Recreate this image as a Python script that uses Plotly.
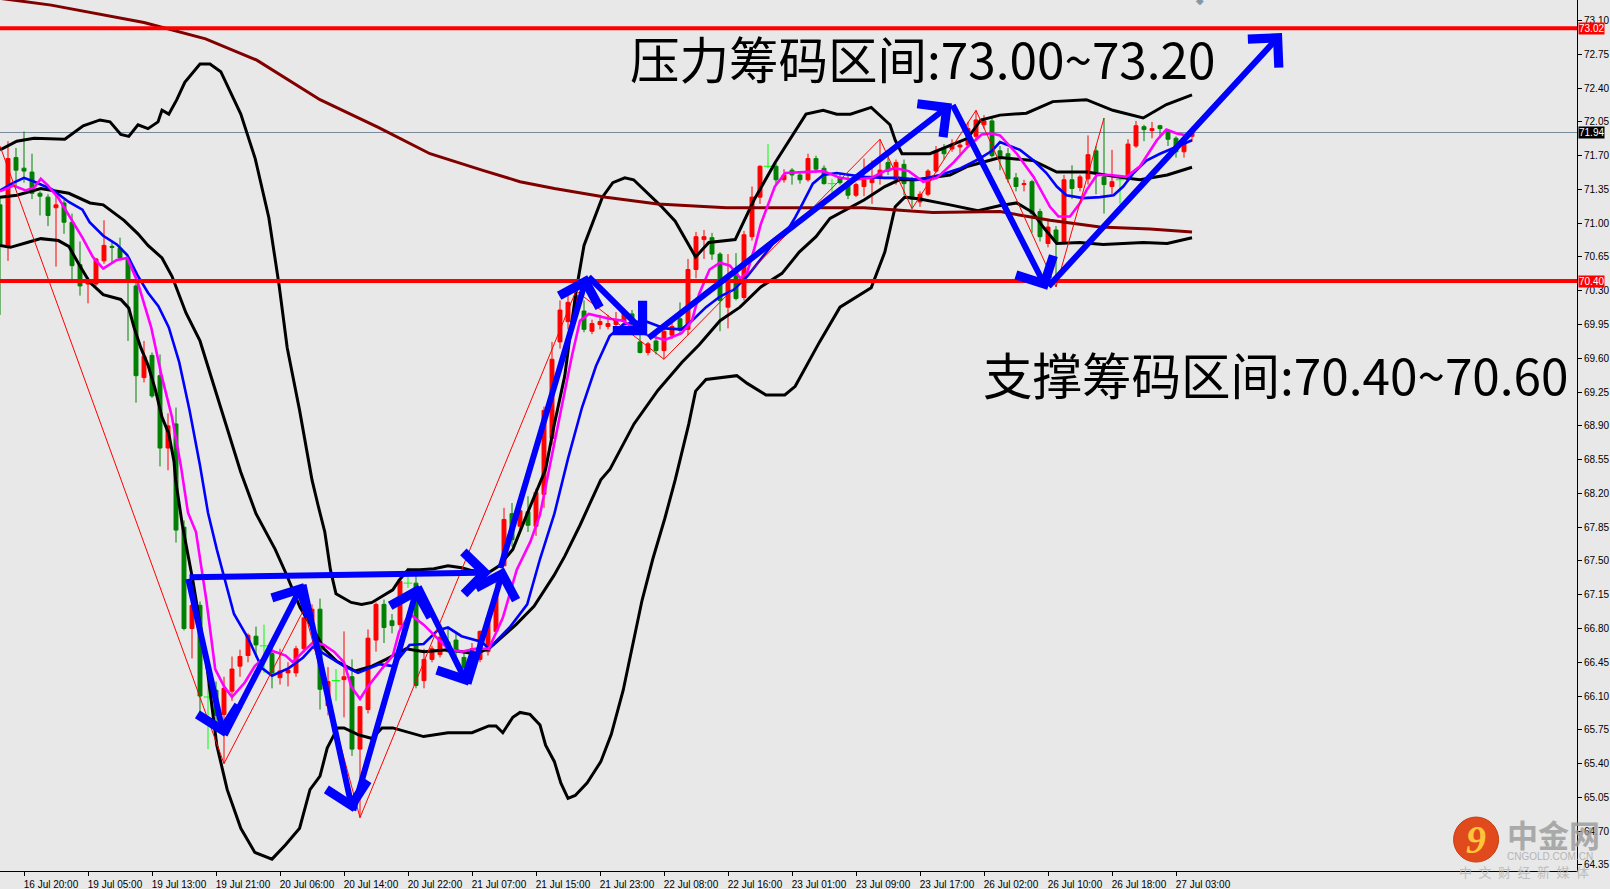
import plotly.graph_objects as go

# H1 bars, bar 0 = 16 Jul 17:00
opens = [71.19, 70.76, 71.68, 71.57, 71.53, 71.31, 71.27, 71.16, 71.21, 71.01,
         70.57, 70.37, 70.37, 70.61, 70.76, 70.74, 70.64, 70.35, 69.40, 69.63,
         69.42, 68.67, 68.92, 67.85, 66.80, 67.04, 66.09, 66.16, 65.91, 66.15,
         66.41, 66.52, 66.72, 66.62, 66.54, 66.29, 66.34, 66.34, 66.59, 66.88,
         67.00, 66.00, 66.26, 66.27, 66.30, 65.55, 65.96, 66.68, 67.05, 66.88,
         66.84, 67.27, 67.27, 66.26, 66.48, 66.53, 66.66, 66.68, 66.50, 66.47,
         66.48, 66.56, 66.77, 67.45, 67.99, 67.86, 68.01, 67.86, 68.19, 68.77,
         69.77, 69.98, 70.15, 70.09, 69.88, 69.95, 69.93, 69.95, 69.98, 70.06,
         69.77, 69.66, 69.78, 69.68, 69.84, 70.01, 69.90, 70.52, 70.83, 70.85,
         70.68, 70.13, 70.49, 70.23, 70.86, 71.27, 71.59, 71.59, 71.45, 71.55,
         71.50, 71.45, 71.67, 71.57, 71.41, 71.47, 71.41, 71.29, 71.38, 71.42,
         71.48, 71.63, 71.45, 71.61, 71.45, 71.22, 71.30, 71.54, 71.77, 71.77,
         71.79, 71.81, 71.90, 72.02, 72.06, 71.75, 71.72, 71.47, 71.40, 71.43,
         71.12, 70.79, 70.93, 70.81, 71.45, 71.37, 71.46, 71.75, 71.48, 71.38,
         71.45, 71.45, 71.80, 72.00, 71.96, 72.01, 71.95, 71.88, 71.74, 71.90]
highs = [71.28, 71.85, 71.78, 71.95, 71.72, 71.33, 71.30, 71.28, 71.24, 71.10,
         70.81, 70.44, 70.64, 71.03, 70.81, 70.85, 70.66, 70.44, 69.78, 69.66,
         69.64, 69.03, 69.09, 67.92, 67.10, 67.08, 66.23, 66.25, 66.30, 66.51,
         66.58, 66.75, 66.82, 66.84, 66.60, 66.59, 66.45, 66.62, 67.00, 67.05,
         67.11, 66.40, 66.38, 66.77, 66.48, 65.70, 66.79, 67.07, 67.10, 66.95,
         67.30, 67.43, 67.40, 66.59, 66.62, 66.75, 66.80, 66.75, 66.55, 66.65,
         66.78, 66.97, 67.38, 68.05, 68.10, 68.10, 68.17, 68.25, 69.10, 69.77,
         70.20, 70.26, 70.30, 70.20, 70.00, 70.05, 70.05, 70.08, 70.12, 70.10,
         69.85, 69.77, 69.85, 69.90, 70.01, 70.18, 70.63, 70.91, 70.93, 70.90,
         70.70, 70.68, 70.69, 70.92, 71.38, 71.60, 71.82, 71.62, 71.56, 71.57,
         71.54, 71.72, 71.70, 71.60, 71.46, 71.52, 71.50, 71.42, 71.67, 71.65,
         71.87, 71.70, 71.66, 71.66, 71.48, 71.33, 71.56, 71.80, 71.82, 71.87,
         71.85, 72.05, 72.17, 72.12, 72.10, 71.80, 71.78, 71.52, 71.45, 71.45,
         71.15, 71.03, 70.97, 71.50, 71.60, 71.50, 71.91, 71.80, 72.09, 71.76,
         71.47, 71.87, 72.06, 72.02, 72.05, 72.02, 71.97, 71.90, 71.89, 72.00]
lows = [70.05, 70.61, 71.36, 71.42, 71.25, 71.08, 70.97, 70.55, 70.89, 70.42,
        70.25, 70.17, 70.35, 70.58, 70.58, 70.62, 69.78, 69.14, 69.35, 69.19,
        68.48, 68.44, 67.69, 66.78, 66.49, 65.91, 65.55, 65.78, 65.40, 66.05,
        66.30, 66.45, 66.50, 66.34, 66.18, 66.22, 66.20, 66.30, 66.55, 66.80,
        65.96, 65.90, 66.05, 65.88, 65.48, 64.84, 65.92, 66.56, 66.65, 66.75,
        66.80, 67.22, 66.18, 66.18, 66.45, 66.50, 66.55, 66.40, 66.37, 66.43,
        66.45, 66.52, 66.77, 67.45, 67.65, 67.80, 67.80, 67.76, 68.05, 68.70,
        69.70, 69.90, 70.05, 69.87, 69.85, 69.90, 69.90, 69.90, 69.95, 69.85,
        69.65, 69.63, 69.64, 69.59, 69.80, 69.85, 69.84, 70.43, 70.63, 70.62,
        69.88, 69.91, 70.20, 70.20, 70.82, 71.20, 71.57, 71.40, 71.42, 71.40,
        71.41, 71.43, 71.52, 71.40, 71.29, 71.40, 71.25, 71.27, 71.28, 71.20,
        71.40, 71.50, 71.40, 71.29, 71.15, 71.17, 71.28, 71.52, 71.66, 71.74,
        71.72, 71.78, 71.85, 71.98, 71.68, 71.55, 71.42, 71.33, 71.33, 70.90,
        70.81, 70.75, 70.34, 70.78, 71.25, 71.33, 71.40, 71.30, 71.10, 71.30,
        71.20, 71.43, 71.78, 71.85, 71.88, 71.88, 71.80, 71.68, 71.68, 71.85]
closes = [70.78, 71.67, 71.55, 71.54, 71.31, 71.28, 71.08, 71.19, 71.01, 70.56,
          70.35, 70.39, 70.63, 70.77, 70.75, 70.64, 70.40, 69.42, 69.62, 69.21,
          68.67, 68.90, 67.82, 66.80, 67.04, 66.10, 66.09, 65.90, 66.18, 66.38,
          66.51, 66.73, 66.63, 66.62, 66.34, 66.36, 66.37, 66.59, 66.91, 67.00,
          66.17, 66.25, 66.26, 66.30, 65.55, 65.99, 66.70, 67.05, 66.81, 66.83,
          67.29, 67.27, 66.21, 66.48, 66.59, 66.71, 66.56, 66.57, 66.39, 66.59,
          66.77, 66.91, 67.16, 67.93, 67.72, 68.02, 67.87, 68.21, 69.06, 69.59,
          70.10, 70.18, 70.25, 69.90, 69.96, 69.98, 69.96, 70.00, 70.09, 69.90,
          69.66, 69.75, 69.68, 69.88, 69.93, 69.89, 70.52, 70.86, 70.86, 70.68,
          70.20, 70.40, 70.22, 70.88, 71.27, 71.59, 71.59, 71.45, 71.50, 71.50,
          71.45, 71.67, 71.56, 71.41, 71.41, 71.42, 71.29, 71.40, 71.45, 71.48,
          71.55, 71.54, 71.63, 71.41, 71.25, 71.30, 71.54, 71.75, 71.72, 71.82,
          71.81, 71.98, 72.07, 72.06, 71.70, 71.68, 71.46, 71.38, 71.41, 71.10,
          70.86, 70.96, 70.81, 71.45, 71.36, 71.48, 71.71, 71.53, 71.40, 71.43,
          71.45, 71.82, 72.01, 71.97, 71.98, 71.98, 71.87, 71.74, 71.83, 71.94]

label_bars = [3, 11, 19, 27, 35, 43, 51, 59, 67, 75, 83, 91, 99, 107, 115,
              123, 131, 139, 147]
time_labels = ["16 Jul 20:00", "19 Jul 05:00", "19 Jul 13:00", "19 Jul 21:00",
               "20 Jul 06:00", "20 Jul 14:00", "20 Jul 22:00", "21 Jul 07:00",
               "21 Jul 15:00", "21 Jul 23:00", "22 Jul 08:00", "22 Jul 16:00",
               "23 Jul 01:00", "23 Jul 09:00", "23 Jul 17:00", "26 Jul 02:00",
               "26 Jul 10:00", "26 Jul 18:00", "27 Jul 03:00"]

# indicator lines: (bar, price)
bb_upper = [(0, 71.76), (2.1, 71.85), (4.25, 71.88), (8.1, 71.87), (10.4, 72.01),
            (12.5, 72.07), (13.75, 72.05), (15.1, 71.92), (16.1, 71.90), (17.25, 72.02),
            (18.5, 71.98), (19.75, 72.05), (20.25, 72.17), (21.1, 72.13), (22.1, 72.28),
            (23.1, 72.46), (25, 72.65), (26.25, 72.65), (27.6, 72.57), (29.25, 72.28),
            (30.1, 72.13), (31.9, 71.67), (33.6, 71.06), (34.9, 70.35), (35.9, 69.71),
            (37.45, 69.06), (39, 68.34), (39.75, 68.08), (40.6, 67.80), (41.3, 67.41),
            (42, 67.16), (43.9, 67.07), (45.2, 67.05), (46.5, 67.07), (47.75, 67.13),
            (49.1, 67.20), (49.9, 67.30), (51, 67.41), (52.5, 67.41), (54.25, 67.42),
            (56, 67.45), (57.7, 67.43), (59, 67.40), (61.1, 67.38), (62.4, 67.45),
            (64.1, 67.62), (65.9, 67.99), (67.1, 68.24), (68.2, 68.45), (69.3, 68.92),
            (70.6, 69.42), (71.5, 69.99), (72.1, 70.34), (73, 70.77), (74, 70.99),
            (75.3, 71.27), (76.6, 71.42), (78.1, 71.47), (79.2, 71.45), (80.9, 71.31),
            (82.6, 71.18), (84.4, 71.02), (85.6, 70.85), (86.95, 70.65), (88.6, 70.80),
            (91.9, 70.83), (94.25, 71.24), (96.9, 71.63), (100.75, 72.13), (102.9, 72.17),
            (104.6, 72.13), (106.3, 72.13), (108.9, 72.20), (111.25, 72.02), (111.9, 71.86),
            (112.75, 71.72), (116.25, 71.72), (118.8, 71.81), (120.95, 71.88), (122.6, 72.07),
            (125, 72.12), (128.3, 72.14), (131.6, 72.26), (135.8, 72.28), (139.1, 72.17),
            (142.9, 72.09), (145.8, 72.23), (149, 72.33)]
bb_middle = [(0, 71.27), (2.1, 71.29), (5.1, 71.36), (8.6, 71.31), (11.25, 71.21),
             (12.9, 71.19), (15.5, 71.03), (17.25, 70.89), (18.5, 70.77), (20.25, 70.64),
             (21.5, 70.45), (23.25, 70.07), (25, 69.78), (26.6, 69.35), (28.4, 68.86),
             (30.1, 68.42), (32, 67.99), (34.4, 67.62), (35.75, 67.37), (37.5, 67.02),
             (39.1, 66.80), (40.5, 66.59), (42.1, 66.46), (44.4, 66.36), (46.5, 66.41),
             (48.25, 66.48), (50.75, 66.59), (53, 66.56), (56, 66.58), (59.4, 66.54),
             (61.1, 66.59), (64.5, 66.84), (66.75, 67.03), (68.25, 67.22), (69.25, 67.35),
             (70.6, 67.55), (71.5, 67.70), (72.5, 67.87), (73.6, 68.07), (75.1, 68.34),
             (76.25, 68.45), (79.25, 68.92), (82.25, 69.27), (85.25, 69.56), (87.4, 69.74),
             (90, 69.99), (92.5, 70.13), (95.1, 70.34), (97.75, 70.48), (99.9, 70.70),
             (102, 70.86), (103.75, 71.05), (108, 71.24), (110.6, 71.38), (112.4, 71.45),
             (114.5, 71.45), (118.75, 71.50), (121, 71.59), (125, 71.68), (129.1, 71.65),
             (132.1, 71.53), (135.9, 71.53), (139.6, 71.48), (142.5, 71.45), (145.9, 71.50),
             (149, 71.58)]
bb_lower = [(0, 70.77), (1.3, 70.75), (3.4, 70.80), (5.1, 70.84), (7.3, 70.82),
            (8.6, 70.76), (9.9, 70.57), (11.2, 70.39), (12.9, 70.26), (15.1, 70.21),
            (16.1, 70.12), (16.75, 69.92), (17.6, 69.71), (18.5, 69.53), (19.4, 69.28),
            (20.25, 68.99), (21.1, 68.82), (21.75, 68.53), (21.95, 68.34), (22.8, 67.87),
            (24.1, 67.30), (25.8, 66.45), (27.1, 65.59), (28.4, 65.13), (30.1, 64.73),
            (31.85, 64.48), (34, 64.41), (35.7, 64.56), (37.45, 64.73), (38.75, 65.13),
            (40, 65.27), (40.9, 65.56), (42.2, 65.77), (43, 65.77), (44.75, 65.70),
            (46.5, 65.66), (47.75, 65.77), (49.1, 65.77), (52.95, 65.68), (56, 65.72),
            (59, 65.72), (61.1, 65.79), (62, 65.79), (62.85, 65.72), (64.1, 65.88),
            (65, 65.93), (66.25, 65.91), (67.5, 65.80), (68.2, 65.59), (69.3, 65.42),
            (70.1, 65.20), (71, 65.04), (71.9, 65.07), (73.4, 65.20), (75.1, 65.42),
            (76.4, 65.70), (77.9, 66.16), (79.2, 66.66), (80.25, 67.09), (81.6, 67.52),
            (83.1, 67.94), (84.4, 68.34), (86.1, 68.92), (86.95, 69.26), (88.25, 69.38),
            (92.1, 69.42), (93.4, 69.34), (95.75, 69.22), (98.1, 69.22), (99.4, 69.31),
            (102.45, 69.77), (105, 70.13), (108.9, 70.33), (110.6, 70.70), (111.9, 71.17),
            (113.1, 71.27), (115, 71.25), (118.75, 71.19), (122.25, 71.13), (124.9, 71.18),
            (127.1, 71.21), (129.1, 71.11), (130.4, 70.96), (132.1, 70.79), (135, 70.80),
            (137.9, 70.78), (142.9, 70.80), (145.9, 70.79), (149, 70.85)]
ma_fast = [(0, 71.33), (1.7, 71.39), (3.2, 71.34), (4.3, 71.37), (5.1, 71.46),
           (6, 71.39), (7.3, 71.26), (9, 71.03), (10.3, 70.85), (11.6, 70.65),
           (12.9, 70.53), (14.6, 70.62), (15.9, 70.64), (17.2, 70.39), (18.9, 69.92),
           (20.2, 69.42), (21.5, 68.99), (22.6, 68.49), (23.5, 68.00), (24.5, 67.80),
           (25.8, 67.09), (26.9, 66.38), (28, 66.20), (29, 66.09), (30.6, 66.24),
           (31.85, 66.41), (34, 66.57), (35.7, 66.52), (36.6, 66.45), (37.9, 66.56),
           (39.2, 66.66), (40.5, 66.63), (41.75, 66.56), (43, 66.45), (43.9, 66.20),
           (45, 66.07), (46, 66.20), (47.8, 66.39), (49.1, 66.52), (49.9, 66.77),
           (51.2, 66.95), (52.95, 66.84), (54.7, 66.70), (56, 66.59), (57.7, 66.56),
           (59.4, 66.59), (61.1, 66.59), (62.85, 66.91), (64.6, 67.41), (66.3, 67.70),
           (67.5, 67.98), (68.9, 68.56), (70.2, 69.09), (71.5, 69.63), (72.5, 69.99),
           (73.6, 70.06), (76.2, 70.01), (77.9, 69.99), (79.2, 69.91), (80.9, 69.84),
           (83.1, 69.79), (85.2, 69.86), (86.5, 69.99), (87.4, 70.27), (88.7, 70.52),
           (90, 70.59), (91.25, 70.56), (92.55, 70.43), (93.4, 70.49), (94.3, 70.74),
           (95.1, 70.99), (96, 71.20), (96.85, 71.38), (98.15, 71.52), (101.6, 71.54),
           (102.9, 71.54), (105, 71.47), (106.75, 71.45), (108.9, 71.47), (110.6, 71.54),
           (111.9, 71.57), (113.6, 71.54), (115.4, 71.43), (117.1, 71.47), (119.2, 71.63),
           (120.95, 71.79), (122.7, 71.92), (124, 71.93), (125, 71.91), (127.1, 71.72),
           (129.2, 71.48), (131.25, 71.17), (132.3, 71.07), (133.75, 71.07), (135, 71.21),
           (135.8, 71.34), (137.1, 71.50), (138.75, 71.50), (140.8, 71.48), (142.5, 71.59),
           (144.6, 71.86), (145.8, 71.97), (147.1, 71.93), (148.3, 71.91), (149, 71.95)]
ma_slow = [(0, 71.34), (1.7, 71.42), (3, 71.47), (4.3, 71.43), (6.5, 71.35),
           (8.6, 71.22), (10.3, 71.14), (11.2, 71.01), (12.9, 70.87), (14.6, 70.78),
           (15.9, 70.67), (17.2, 70.46), (18.5, 70.28), (19.8, 70.14), (21.1, 69.92),
           (22.4, 69.56), (23.7, 69.06), (25, 68.49), (26, 68.00), (27.1, 67.62),
           (29.25, 66.95), (31, 66.70), (32.75, 66.39), (34, 66.31), (36.1, 66.39),
           (37.9, 66.50), (39.1, 66.61), (41.3, 66.50), (43, 66.41), (44.75, 66.34),
           (47.4, 66.43), (49.1, 66.41), (51.2, 66.63), (52.95, 66.64), (54.7, 66.78),
           (56, 66.81), (57.7, 66.72), (60.25, 66.66), (61.1, 66.59), (63.7, 66.81),
           (65.9, 67.05), (67.5, 67.52), (69.3, 67.99), (71, 68.56), (72.75, 69.09),
           (74.5, 69.52), (76.2, 69.83), (77.9, 69.95), (80.5, 69.99), (83.1, 69.91),
           (85.2, 69.90), (86.5, 69.99), (88.25, 70.13), (90, 70.24), (91.7, 70.31),
           (93.4, 70.45), (95.1, 70.63), (96.85, 70.81), (98.6, 70.95), (99.4, 71.06),
           (100.3, 71.20), (101.6, 71.41), (102.9, 71.50), (104.6, 71.52), (106.3, 71.50),
           (108, 71.48), (110.6, 71.47), (112.35, 71.47), (114.9, 71.45), (117.5, 71.50),
           (120.1, 71.57), (122.25, 71.66), (124, 71.75), (125, 71.84), (127.5, 71.76),
           (129.2, 71.65), (130.8, 71.52), (132.1, 71.38), (133.3, 71.29), (135.4, 71.26),
           (137.5, 71.27), (139.2, 71.29), (140.4, 71.38), (141.7, 71.52), (143.3, 71.65),
           (145, 71.72), (146.7, 71.78), (148.3, 71.84), (149, 71.86)]
ma_long = [(0, 73.33), (6.4, 73.26), (18, 73.08), (25.7, 72.91), (32.1, 72.69),
           (38.5, 72.36), (40, 72.28), (47.35, 71.99), (53.75, 71.72), (60.25, 71.55),
           (65, 71.43), (69.3, 71.36), (75.75, 71.27), (82.2, 71.20), (90.8, 71.16),
           (99.4, 71.16), (108, 71.16), (116.6, 71.11), (125, 71.12), (131.25, 71.03),
           (137.5, 70.96), (143.75, 70.94), (149, 70.91)]
zigzag = [(0, 71.80), (28, 65.40), (38, 67.00), (45, 64.84), (72, 70.30),
          (83, 69.59), (110, 71.87), (114, 71.15), (122, 72.17), (132, 70.34),
          (138, 72.09)]

# hand-drawn arrows: (tail bar, tail price, head bar, head price)
arrows = [(23.5, 67.33, 61.4, 67.38), (23.5, 67.33, 28.0, 65.68),
          (28.0, 65.68, 37.9, 67.27), (37.9, 67.27, 44.1, 64.90),
          (44.1, 64.90, 52.25, 67.25), (52.25, 67.25, 58.5, 66.21),
          (58.5, 66.21, 63.0, 67.43), (62.5, 67.41, 73.4, 70.46),
          (73.4, 70.46, 80.9, 69.84), (80.9, 69.80, 119.0, 72.24),
          (119.0, 72.24, 130.9, 70.31), (130.9, 70.33, 160.25, 72.97)]

resistance = 73.02
support = 70.40
last_price = 71.94

BG = "#e8e8e8"
UP = "#ff0000"
DOWN = "#008000"
DOJI = "#00ff00"

bars = list(range(len(opens)))
is_doji = [o == c for o, c in zip(opens, closes)]


def pick(values, keep):
    return [v if k else None for v, k in zip(values, keep)]


fig = go.Figure()

solid = [not d for d in is_doji]
fig.add_trace(go.Candlestick(
    x=bars,
    open=pick(opens, solid), high=pick(highs, solid),
    low=pick(lows, solid), close=pick(closes, solid),
    increasing=dict(fillcolor=UP, line=dict(color=UP, width=1)),
    decreasing=dict(fillcolor=DOWN, line=dict(color=DOWN, width=1)),
    whiskerwidth=0, hoverinfo="skip",
))

# doji bars (open == close) are drawn as lime crosses
wick_x, wick_y = [], []
for i, d in enumerate(is_doji):
    if d:
        wick_x += [i, i, None]
        wick_y += [highs[i], lows[i], None]
fig.add_trace(go.Scatter(x=wick_x, y=wick_y, mode="lines",
                         line=dict(color=DOJI, width=1), hoverinfo="skip"))
fig.add_trace(go.Scatter(
    x=[i for i, d in enumerate(is_doji) if d],
    y=[closes[i] for i, d in enumerate(is_doji) if d],
    mode="markers",
    marker=dict(symbol="line-ew", size=6, line=dict(color=DOJI, width=1)),
    hoverinfo="skip",
))


def add_line(points, color, width):
    fig.add_trace(go.Scatter(
        x=[p[0] for p in points], y=[p[1] for p in points], mode="lines",
        line=dict(color=color, width=width), hoverinfo="skip",
    ))


for band in (bb_upper, bb_middle, bb_lower):
    add_line(band, "#000000", 3)
add_line(ma_long, "#800000", 3)
add_line(ma_slow, "#0000ff", 2.6)
add_line(ma_fast, "#ff00ff", 2.6)
add_line(zigzag, "#ff0000", 1)

fig.add_hline(y=last_price, line_color="#7a8a9a", line_width=1, layer="below")
for level in (resistance, support):
    fig.add_hline(y=level, line_color="#ff0000", line_width=4, layer="above")

for tb, tp, hb, hp in arrows:
    fig.add_annotation(
        x=hb, y=hp, ax=tb, ay=tp, xref="x", yref="y", axref="x", ayref="y",
        text="", showarrow=True, arrowhead=4, arrowsize=1.35, arrowwidth=6,
        arrowcolor="#0000ff", standoff=0,
    )

cjk = "Noto Sans CJK SC, Microsoft YaHei, sans-serif"
fig.add_annotation(x=78.5, y=72.72, xref="x", yref="y", xanchor="left",
                   yanchor="middle", showarrow=False,
                   text="压力筹码区间:73.00~73.20",
                   font=dict(family=cjk, size=49.5, color="#000000"))
fig.add_annotation(x=122.6, y=69.44, xref="x", yref="y", xanchor="left",
                   yanchor="middle", showarrow=False,
                   text="支撑筹码区间:70.40~70.60",
                   font=dict(family=cjk, size=49.5, color="#000000"))

# price tags on the right scale
for level, bg in ((resistance, "#ff0000"), (support, "#ff0000"), (last_price, "#000000")):
    fig.add_annotation(x=1, y=level, xref="paper", yref="y", xanchor="left",
                       yanchor="middle", xshift=1, showarrow=False,
                       text=f"{level:.2f}", bgcolor=bg, borderpad=0,
                       font=dict(family="Liberation Sans, Arial", size=10, color="#ffffff"))

# small gray marker at the top
fig.add_annotation(x=150, y=1, xref="x", yref="paper", yanchor="middle",
                   showarrow=False, text="◆",
                   font=dict(size=10, color="#8a96a8"))

# watermark
fig.add_shape(type="circle", xref="paper", yref="paper", xsizemode="pixel",
              ysizemode="pixel", xanchor=0.936, yanchor=0.0361,
              x0=-22.5, x1=22.5, y0=-22.5, y1=22.5,
              fillcolor="#e04a1c", line=dict(color="#c93c12", width=1))
fig.add_annotation(x=0.936, y=0.0361, xref="paper", yref="paper",
                   xanchor="center", yanchor="middle", showarrow=False,
                   text="<b><i>9</i></b>",
                   font=dict(family="Liberation Serif", size=40, color="#ffc43a"))
fig.add_annotation(x=0.9543, y=0.043, xref="paper", yref="paper",
                   xanchor="left", yanchor="middle", showarrow=False,
                   text="<b>中金网</b>", opacity=0.8,
                   font=dict(family=cjk, size=31, color="#9a9a9a"))
fig.add_annotation(x=0.9546, y=0.0164, xref="paper", yref="paper",
                   xanchor="left", yanchor="middle", showarrow=False,
                   text="CNGOLD.COM.CN", opacity=0.8,
                   font=dict(family="Liberation Sans, Arial", size=10, color="#a8a8a8"))
fig.add_annotation(x=0.9239, y=0.0, xref="paper", yref="paper",
                   xanchor="left", yanchor="middle", showarrow=False,
                   text="\u2002".join("中文财经新媒体"), opacity=0.8,
                   font=dict(family=cjk, size=13, color="#b4b4b4"))

fig.update_layout(
    width=1610, height=889,
    margin=dict(l=0, r=33, t=0, b=18),
    plot_bgcolor=BG, paper_bgcolor=BG,
    showlegend=False,
    xaxis=dict(
        range=[0, 197.125], rangeslider=dict(visible=False),
        tickmode="array", tickvals=label_bars, ticktext=time_labels,
        ticks="outside", ticklen=4, tickcolor="#000000", ticklabelshift=27,
        showline=True, linecolor="#000000", linewidth=1,
        showgrid=False, zeroline=False,
        tickfont=dict(family="Liberation Sans Narrow, Arial Narrow, sans-serif",
                      size=10, color="#000000"),
    ),
    yaxis=dict(
        range=[64.287, 73.313], side="right",
        tick0=64.35, dtick=0.35, tickformat=".2f",
        ticks="outside", ticklen=4, tickcolor="#000000",
        showline=True, linecolor="#000000", linewidth=1,
        showgrid=False, zeroline=False,
        tickfont=dict(family="Liberation Sans, Arial", size=10, color="#000000"),
    ),
)

fig.write_html("out.html", config={"displayModeBar": False},
               post_script="document.body.style.margin='0px';")
